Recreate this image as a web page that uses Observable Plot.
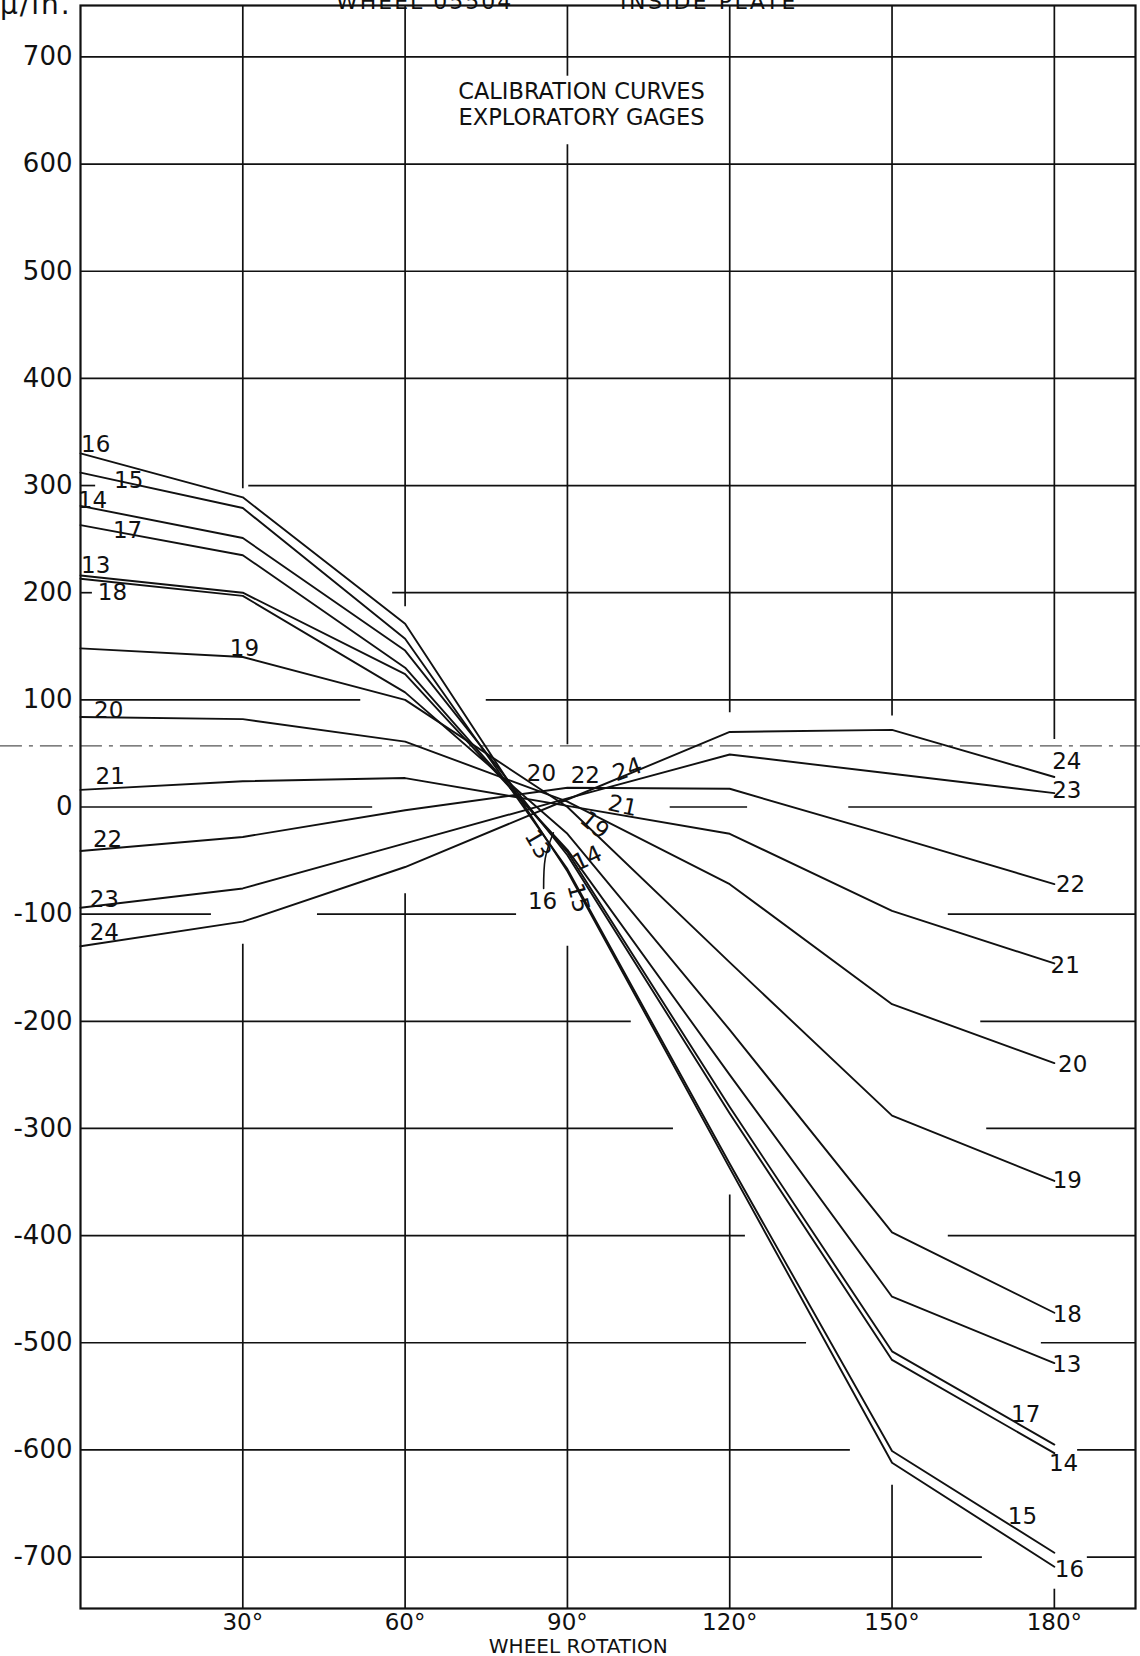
<!DOCTYPE html>
<html>
<head>
<meta charset="utf-8">
<script src="https://cdn.jsdelivr.net/npm/d3@7"></script>
<script src="https://cdn.jsdelivr.net/npm/@observablehq/plot@0.6"></script>
<style>
  html, body { margin: 0; padding: 0; background: #fff; overflow: hidden; }
  #wrap { position: relative; width: 1140px; height: 1656px; }
  .cut { position: absolute; font-family: "DejaVu Sans", sans-serif; color: #111; white-space: nowrap; line-height: 1; }
  svg { overflow: visible; }
</style>
</head>
<body>
<div id="wrap">
  <div id="chart"></div>
  <div class="cut" style="left:0px; top:-9px; font-size:28px; letter-spacing:2px;">μ/in.</div>
  <div class="cut" style="left:336px; top:-9px; font-size:22px; letter-spacing:2px;">WHEEL 05504</div>
  <div class="cut" style="left:620px; top:-9px; font-size:22px; letter-spacing:2.5px;">INSIDE PLATE</div>
</div>
<script>
// ---- data: wheel rotation (deg) and strain (micro-in/in) per gage ----
const angles = [0, 30, 60, 90, 120, 150, 180];
const gages = ["13","14","15","16","17","18","19","20","21","22","23","24"];
const g13 = [216, 200, 124, -40, -250, -457, -519];
const g14 = [281, 251, 146, -45, -286, -516, -603];
const g15 = [312, 279, 157, -58, -333, -601, -696];
const g16 = [330, 289, 171, -60, -337, -612, -709];
const g17 = [263, 235, 130, -42, -280, -508, -595];
const g18 = [213, 197, 107, -25, -208, -397, -472];
const g19 = [148, 140, 100, 0, -145, -288, -349];
const g20 = [84, 82, 61, 5, -72, -184, -239];
const g21 = [16, 24, 27, 1, -25, -97, -146];
const g22 = [-41, -28, -3, 18, 17, -27, -72];
const g23 = [-94, -76, -34, 8, 49, 31, 13];
const g24 = [-130, -107, -56, 7, 70, 72, 28];
const series = [g13, g14, g15, g16, g17, g18, g19, g20, g21, g22, g23, g24];

// tick labels
const xTicks = [30, 60, 90, 120, 150, 180];
const yTicks = [-700, -600, -500, -400, -300, -200, -100, 0, 100, 200, 300, 400, 500, 600, 700];

// curve labels (text, angle, value, rotation)
const labText  = ["16","15","14","17","13","18","19","20","21","22","23","24",
                  "24","23","22","21","20","19","18","13","17","14","15","16",
                  "20","22","24","21","19","13","14","16","15"];
const labAngle = [2.8, 8.9, 2.2, 8.7, 2.8, 5.9, 30.3, 5.2, 5.5, 5.0, 4.4, 4.4,
                  182.3, 182.3, 183, 182, 183.4, 182.4, 182.4, 182.3, 174.7, 181.7, 174.1, 182.8,
                  85.2, 93.3, 101.1, 100.2, 95, 84.5, 93.7, 85.4, 92];
const labValue = [338, 305, 286, 258, 225, 200, 148, 90, 28, -30, -86, -117,
                  42, 15, -72, -148, -240, -349, -474, -520, -567, -613, -662, -712,
                  31, 29, 35, 1, -17, -35, -48, -88, -85];
const labRot   = [0,0,0,0,0,0,0,0,0,0,0,0,
                  0,0,0,0,0,0,0,0,0,0,0,0,
                  0, 0, -20, 12, 40, 60, -25, 0, 75];

// leader from label "16" to its curve
const leaderAngle = [85.6, 85.9, 87.4];
const leaderValue = [-76, -48, -24];

// grid as drawn on the sheet (broken lines)
const hGridValue = [700, 600, 500, 400, 300, 300, 200, 200, 100, 100, 0, 0, 0, -100, -100, -100,
                    -200, -200, -300, -300, -400, -400, -500, -500, -600, -600, -700, -700];
const hGridFrom  = [0, 0, 0, 0, 0, 31.1, 0, 57.7, 0, 75, 0, 109, 142, 0, 43.8, 160.4,
                    0, 166.4, 0, 167.5, 0, 160.4, 0, 177.6, 0, 184.3, 0, 186.1];
const hGridTo    = [195, 195, 195, 195, 2.8, 195, 2.2, 195, 51.8, 195, 54, 123.3, 195, 24.2, 80.6, 195,
                    101.8, 195, 109.6, 195, 122.9, 195, 134.2, 195, 142.3, 195, 166.7, 195];
const vGridAngle = [30, 30, 60, 60, 90, 90, 90, 120, 120, 150, 150, 180, 180];
const vGridFrom  = [748, -128, 748, -81, 748, 618, -130, 748, -362, 748, -633, 748, -730];
const vGridTo    = [297, -748, 187, -748, 682, 58, -748, 88, -748, 85, -748, 63, -748];
const foldValue = [57];

// title lines
const titleLines = ["CALIBRATION CURVES", "EXPLORATORY GAGES"];
const titleValue = [667, 643.5];

// ---- build tables ----
const rows = [];
series.forEach((s, i) => s.forEach((v, j) => rows.push({gage: gages[i], angle: angles[j], value: v})));
const labels = labText.map((t, i) => ({t, a: labAngle[i], v: labValue[i], r: labRot[i]}));
const hGrid = hGridValue.map((v, i) => ({v, a: hGridFrom[i], b: hGridTo[i]}));
const vGrid = vGridAngle.map((a, i) => ({a, v1: vGridFrom[i], v2: vGridTo[i]}));
const leader = leaderAngle.map((a, i) => ({a, v: leaderValue[i]}));
const titles = titleLines.map((t, i) => ({t, v: titleValue[i]}));

const ink = "#111";
const chart = Plot.plot({
  width: 1140,
  height: 1656,
  marginLeft: 80,
  marginRight: 5,
  marginTop: 5,
  marginBottom: 48,
  style: {fontFamily: "DejaVu Sans, sans-serif", background: "#fff", color: ink},
  x: {domain: [0, 195], label: null},
  y: {domain: [-748, 748], label: null},
  marks: [
    Plot.ruleY(hGrid, {y: "v", x1: "a", x2: "b", stroke: ink, strokeWidth: 1.7}),
    Plot.ruleX(vGrid, {x: "a", y1: "v1", y2: "v2", stroke: ink, strokeWidth: 1.7}),
    Plot.ruleY(foldValue, {x1: -14.8, x2: 196, stroke: "#555", strokeWidth: 1.2, strokeDasharray: "22,7,4,7"}),
    Plot.frame({stroke: ink, strokeWidth: 2.2}),
    Plot.line(rows, {x: "angle", y: "value", z: "gage", stroke: ink, strokeWidth: 1.9}),
    Plot.line(leader, {x: "a", y: "v", curve: "natural", stroke: ink, strokeWidth: 1.6}),
    Plot.text(labels, {x: "a", y: "v", text: "t", rotate: "r", fontSize: 23, fill: ink}),
    Plot.text(titles, {x: 92.6, y: "v", text: "t", fontSize: 22.5, fill: ink, letterSpacing: 1.2}),
    Plot.axisY({ticks: yTicks, tickSize: 0, tickPadding: 8, fontSize: 26,
      tickFormat: d => (d < 0 ? "-" + Math.abs(d) : String(d))}),
    Plot.axisX({ticks: xTicks, tickSize: 0, tickPadding: 5, fontSize: 23, tickFormat: d => d + "°"}),
    Plot.text(["WHEEL ROTATION"], {frameAnchor: "bottom", x: 92, dy: 30, text: d => d, fontSize: 20, letterSpacing: 2, fill: ink, lineAnchor: "top"})
  ]
});
document.getElementById("chart").appendChild(chart);
</script>
</body>
</html>
